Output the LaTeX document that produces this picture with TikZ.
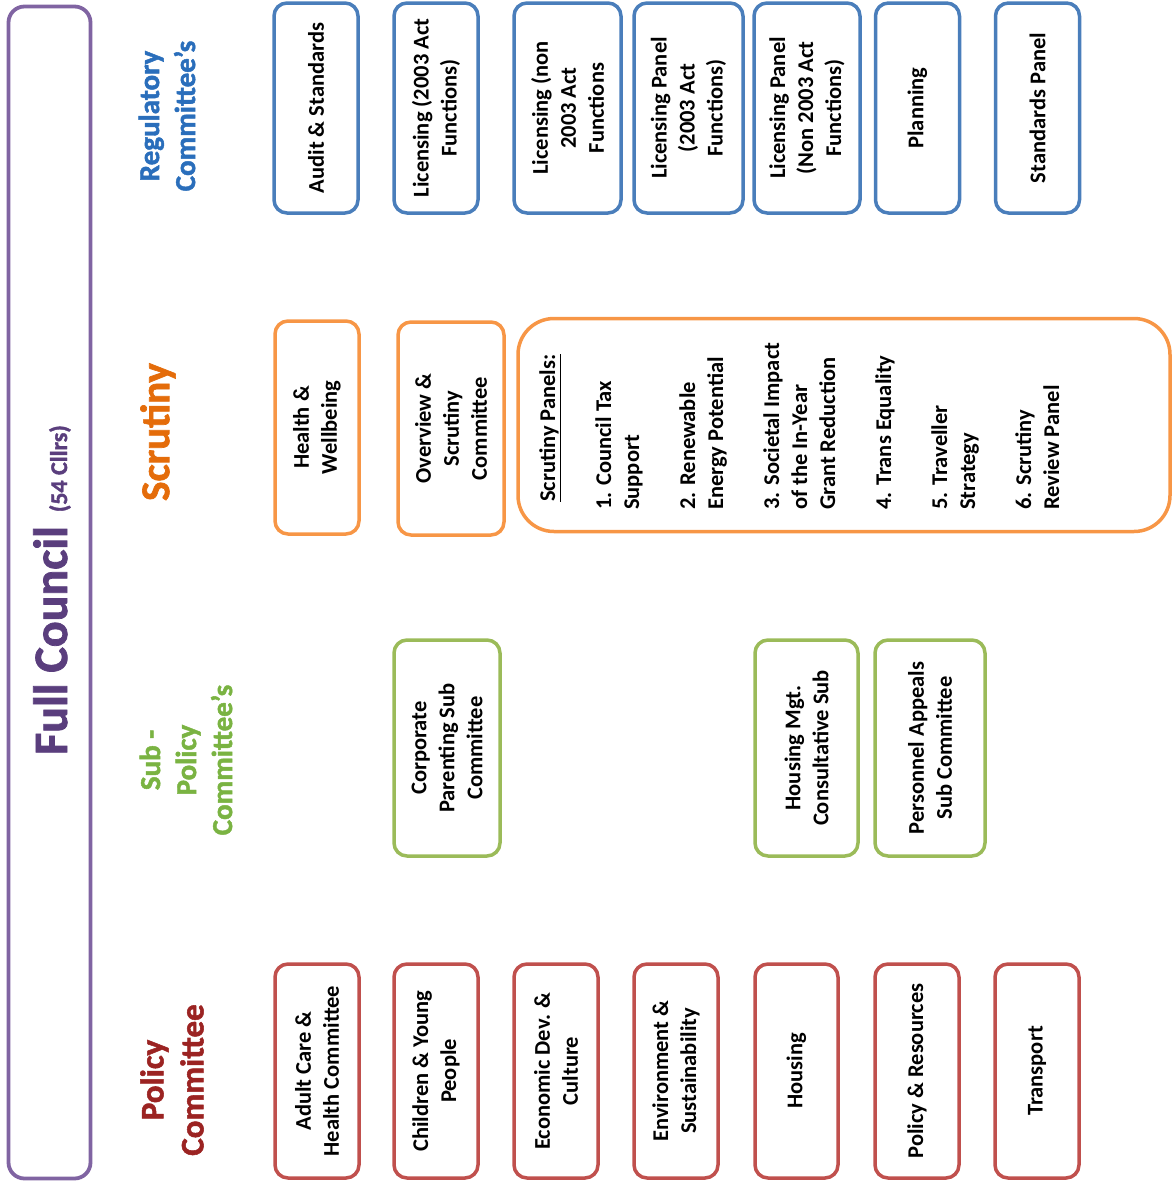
\documentclass[tikz,border=0pt]{standalone}
\usepackage{fontspec}
\setmainfont{Carlito}
\newfontfamily\headfont{Carlito}[Ligatures=TeX, BoldFeatures={FakeBold=1.6}]
\usepackage{tikz}
\definecolor{councilline}{HTML}{8064A2}
\definecolor{counciltext}{HTML}{5A3E7D}
\definecolor{regline}{HTML}{4A7EBB}
\definecolor{regtext}{HTML}{2A6EBB}
\definecolor{scrline}{HTML}{F79646}
\definecolor{scrtext}{HTML}{E46C0A}
\definecolor{subline}{HTML}{9BBB59}
\definecolor{subtext}{HTML}{7AB342}
\definecolor{polline}{HTML}{C0504D}
\definecolor{poltext}{HTML}{9B2322}
\tikzset{
  cbox/.style={draw, line width=3.5pt, rounded corners=13pt, rotate=90, align=center,
    inner sep=0pt, font=\bfseries\fontsize{22.5}{28}\selectfont},
  regbox/.style={cbox, draw=regline, minimum width=210pt, minimum height=#1},
  regbox/.default=84pt,
  scrbox/.style={cbox, draw=scrline, minimum width=213pt, minimum height=#1},
  scrbox/.default=84pt,
  subbox/.style={cbox, draw=subline, minimum width=216pt, minimum height=#1},
  subbox/.default=84pt,
  polbox/.style={cbox, draw=polline, minimum width=214pt, minimum height=#1},
  polbox/.default=84pt,
  head/.style={rotate=90, align=center, inner sep=0pt, font=\headfont\bfseries\fontsize{29}{36}\selectfont},
  paneltext/.style={rotate=90, align=left, inner sep=0pt, font=\bfseries\fontsize{22.5}{28}\selectfont}
}

\begin{document}
\begin{tikzpicture}[x=1pt,y=-1pt]
\useasboundingbox (0,0) rectangle (1174,1187);

\node[draw=councilline, line width=3.8pt, rounded corners=16pt, rotate=90, minimum width=1172pt,
  minimum height=82pt, inner sep=0pt] (council) at (49.5,592.5) {};
\node[rotate=90, inner sep=0pt, text=counciltext, font=\headfont\bfseries\fontsize{48}{48}\selectfont]
  (counciltitle) at (52,590) {Full Council\hspace{14pt}{\fontsize{24}{24}\selectfont(54 Cllrs)}};

\node[head, text=regtext] (reghead) at (167,116) {Regulatory\\Committee’s};
\node[head, text=scrtext, font=\headfont\bfseries\fontsize{41}{41}\selectfont] (scrhead) at (158,432) {Scrutiny};
\node[head, text=subtext] (subhead) at (186,760) {Sub -\\Policy\\Committee’s};
\node[head, text=poltext, font=\headfont\bfseries\fontsize{33}{40}\selectfont] (polhead) at (172,1080) {Policy\\Committee};

\node[regbox] (audit) at (316,108) {Audit \& Standards};
\node[regbox] (lic) at (436,108) {Licensing (2003 Act\\Functions)};
\node[regbox=107pt] (licnon) at (567.5,108) {Licensing (non\\2003 Act\\Functions};
\node[regbox=109pt] (licpanel) at (688.5,108) {Licensing Panel\\(2003 Act\\Functions)};
\node[regbox=106pt] (licpanelnon) at (807,108) {Licensing Panel\\(Non 2003 Act\\Functions)};
\node[regbox] (planning) at (917.5,108) {Planning};
\node[regbox] (stdpanel) at (1037.5,108) {Standards Panel};

\node[scrbox] (health) at (317,427.5) {Health \&\\Wellbeing};
\node[scrbox=106pt] (overview) at (451,428.5) {Overview \&\\Scrutiny\\Committee};
\node[scrbox=652pt, rounded corners=36pt] (panels) at (844,425) {};
\node[paneltext, anchor=north west] (panellist) at (539,510) {\hspace*{8pt}\underline{Scrutiny Panels:}\\[28pt]
  1. Council Tax\\Support\\[28pt]
  2. Renewable\\Energy Potential\\[28pt]
  3. Societal Impact\\of the In-Year\\Grant Reduction\\[28pt]
  4. Trans Equality\\[28pt]
  5. Traveller\\Strategy\\[28pt]
  6. Scrutiny\\Review Panel};

\node[subbox=106pt] (corporate) at (447,748) {Corporate\\Parenting Sub\\Committee};
\node[subbox=103pt] (housingmgt) at (806.5,748) {Housing Mgt.\\Consultative Sub};
\node[subbox=110pt] (personnel) at (930,748) {Personnel Appeals\\Sub Committee};

\node[polbox] (adultcare) at (317,1071) {Adult Care \&\\Health Committee};
\node[polbox] (children) at (436,1071) {Children \& Young\\People};
\node[polbox] (economic) at (556,1071) {Economic Dev. \&\\Culture};
\node[polbox] (environment) at (676,1071) {Environment \&\\Sustainability};
\node[polbox=83pt] (housing) at (796.5,1071) {Housing};
\node[polbox] (resources) at (917,1071) {Policy \& Resources};
\node[polbox] (transport) at (1037,1071) {Transport};
\end{tikzpicture}
\end{document}
